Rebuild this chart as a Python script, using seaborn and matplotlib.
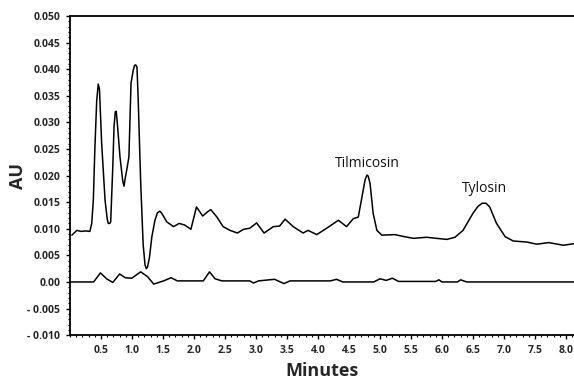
import numpy as np
import pandas as pd
import seaborn as sns
import matplotlib.pyplot as plt
from matplotlib.ticker import MultipleLocator, FixedLocator, FixedFormatter

# sample trace (upper)
t_sample = [0.03, 0.11, 0.18, 0.25, 0.32, 0.35, 0.376, 0.40, 0.43, 0.455, 0.475, 0.51, 0.565, 0.60,
            0.618, 0.64, 0.656, 0.69, 0.71, 0.73, 0.745, 0.763, 0.806, 0.85, 0.871, 0.89, 0.914,
            0.95, 0.984, 1.02, 1.04, 1.06, 1.08, 1.10, 1.14, 1.18, 1.21, 1.23, 1.25, 1.28, 1.32,
            1.37, 1.41, 1.45, 1.48, 1.56, 1.67, 1.76, 1.85, 1.95, 2.04, 2.14, 2.22, 2.27, 2.37,
            2.47, 2.58, 2.70, 2.80, 2.90, 3.01, 3.13, 3.28, 3.38, 3.47, 3.60, 3.76, 3.84, 3.98,
            4.14, 4.33, 4.46, 4.57, 4.65, 4.71, 4.76, 4.79, 4.81, 4.84, 4.89, 4.95, 5.03, 5.24,
            5.40, 5.54, 5.75, 5.91, 6.08, 6.21, 6.34, 6.50, 6.58, 6.65, 6.71, 6.77, 6.88, 7.02,
            7.15, 7.37, 7.53, 7.72, 7.96, 8.13]
au_sample = [0.0088, 0.0097, 0.0095, 0.0096, 0.0095, 0.0110, 0.0154, 0.0248, 0.0340, 0.0372, 0.0362,
             0.0261, 0.0154, 0.0118, 0.0110, 0.0110, 0.0113, 0.0217, 0.0292, 0.0320, 0.0321, 0.0298,
             0.0235, 0.0190, 0.0180, 0.0195, 0.0210, 0.0235, 0.0374, 0.0398, 0.0407, 0.0408, 0.0404,
             0.0342, 0.0186, 0.0070, 0.0032, 0.0025, 0.0028, 0.0045, 0.0085, 0.0116, 0.0130, 0.0133,
             0.0129, 0.0113, 0.0104, 0.0110, 0.0107, 0.0099, 0.0141, 0.0124, 0.0132, 0.0136, 0.0122,
             0.0104, 0.0097, 0.0092, 0.0099, 0.0101, 0.0111, 0.0092, 0.0104, 0.0105, 0.0118, 0.0104,
             0.0092, 0.0097, 0.0089, 0.0101, 0.0116, 0.0104, 0.0119, 0.0122, 0.0160, 0.0192, 0.0201,
             0.0199, 0.0185, 0.0129, 0.0097, 0.0088, 0.0089, 0.0085, 0.0082, 0.0084, 0.0082, 0.0080,
             0.0084, 0.0097, 0.0129, 0.0142, 0.0148, 0.0148, 0.0141, 0.0110, 0.0085, 0.0077, 0.0075,
             0.0071, 0.0074, 0.0069, 0.0072]

# blank trace (lower)
t_blank = [0.0, 0.38, 0.40, 0.49, 0.59, 0.69, 0.80, 0.89, 0.995, 1.14, 1.25, 1.35, 1.51, 1.63, 1.73,
           2.15, 2.25, 2.34, 2.45, 2.90, 2.96, 3.04, 3.30, 3.45, 3.55, 4.20, 4.30, 4.40, 4.90, 5.00,
           5.10, 5.20, 5.30, 5.90, 5.95, 6.00, 6.25, 6.30, 6.40, 8.13]
au_blank = [0.0, 0.0, 0.0003, 0.0017, 0.0006, -0.0001, 0.0015, 0.0008, 0.0007, 0.0019, 0.0010, -0.0004,
            0.0002, 0.0008, 0.0002, 0.0002, 0.0019, 0.0006, 0.0002, 0.0002, -0.0002, 0.0002, 0.0005,
            -0.0003, 0.0002, 0.0002, 0.0005, 0.0000, 0.0000, 0.0006, 0.0003, 0.0007, 0.0001, 0.0001,
            0.0004, 0.0000, 0.0000, 0.0004, 0.0000, 0.0000]

y_ticks = [-0.010, -0.005, 0.0, 0.005, 0.010, 0.015, 0.020, 0.025, 0.030, 0.035, 0.040, 0.045, 0.050]
y_labels = ['- 0.010', '- 0.005', '0.00', '0.005', '0.010', '0.015', '0.020', '0.025', '0.030',
            '0.035', '0.040', '0.045', '0.050']
x_ticks = [0.5, 1.0, 1.5, 2.0, 2.5, 3.0, 3.5, 4.0, 4.5, 5.0, 5.5, 6.0, 6.5, 7.0, 7.5, 8.0]
x_labels = ['0.5', '1.0', '1.5', '2.0', '2.5', '3.0', '3.5', '4.0', '4.5', '5.0', '5.5', '6.0',
            '6.5', '7.0', '7.5', '8.0']

peaks = ['Tilmicosin', 'Tylosin']
peak_t = [4.80, 6.69]
peak_au = [0.0209, 0.0161]

sns.set_theme(style='white')
plt.rcParams['font.family'] = ['Open Sans', 'DejaVu Sans']

df_s = pd.DataFrame({'t': t_sample, 'au': au_sample})
df_b = pd.DataFrame({'t': t_blank, 'au': au_blank})

fig = plt.figure(figsize=(5.74, 3.80), dpi=100)
ax = fig.add_axes([0.122, 0.118, 0.878, 0.840])
sns.lineplot(data=df_s, x='t', y='au', ax=ax, color='black', lw=1.1, sort=False, estimator=None)
sns.lineplot(data=df_b, x='t', y='au', ax=ax, color='black', lw=1.1, sort=False, estimator=None)

for name, tx, ty in zip(peaks, peak_t, peak_au):
    ax.text(tx, ty, name, ha='center', va='bottom', fontsize=10, color='#111111')

ax.set_xlim(0, 8.13)
ax.set_ylim(-0.010, 0.050)
ax.xaxis.set_major_locator(FixedLocator(x_ticks))
ax.xaxis.set_major_formatter(FixedFormatter(x_labels))
ax.yaxis.set_major_locator(FixedLocator(y_ticks))
ax.yaxis.set_major_formatter(FixedFormatter(y_labels))
ax.xaxis.set_minor_locator(MultipleLocator(0.1))
ax.yaxis.set_minor_locator(MultipleLocator(0.001))
ax.tick_params(which='major', direction='out', length=3, width=1, color='black',
               labelsize=7.5, pad=4, bottom=True, left=True)
ax.tick_params(which='minor', direction='out', length=1.5, width=0.8, color='black',
               bottom=True, left=True)
for lab in ax.get_xticklabels() + ax.get_yticklabels():
    lab.set_fontweight('bold')

ax.spines['right'].set_visible(False)
for s in ['left', 'bottom', 'top']:
    ax.spines[s].set_color('black')
    ax.spines[s].set_linewidth(1.3)

ax.set_xlabel('Minutes', fontsize=13, fontweight='bold')
ax.set_ylabel('AU', fontsize=13, fontweight='bold')
ax.xaxis.set_label_coords(0.5, -0.085)
ax.yaxis.set_label_coords(-0.085, 0.5)
ax.grid(False)

fig.savefig('out.png', dpi=100)
